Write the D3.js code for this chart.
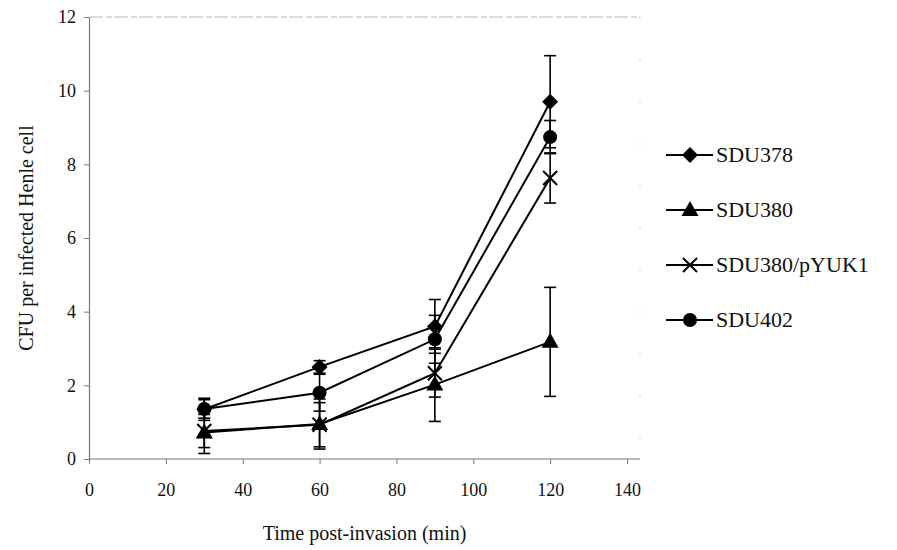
<!DOCTYPE html>
<html>
<head>
<meta charset="utf-8">
<script src="https://cdn.jsdelivr.net/npm/d3@7"></script>
<style>
html,body{margin:0;padding:0;background:#fff;}
svg{display:block;}
svg text{font-family:"Liberation Serif","Times New Roman",serif !important;}
</style>
</head>
<body>
<svg id="chart" width="897" height="550"></svg>
<script>
const times = [30, 60, 90, 120];
const seriesNames = ["SDU378", "SDU380", "SDU380/pYUK1", "SDU402"];
const markers = ["diamond", "triangle", "cross", "circle"];
const sdu378 = [1.35, 2.5, 3.6, 9.7];
const sdu378Err = [0.3, 0.17, 0.73, 1.25];
const sdu380 = [0.72, 0.95, 2.02, 3.18];
const sdu380Err = [0.57, 0.68, 1.0, 1.48];
const pyuk1 = [0.76, 0.93, 2.33, 7.63];
const pyuk1Err = [0.45, 0.6, 0.65, 0.68];
const sdu402 = [1.36, 1.8, 3.25, 8.74];
const sdu402Err = [0.25, 0.5, 0.65, 0.45];
const xTicks = [0, 20, 40, 60, 80, 100, 120, 140];
const yTicks = [0, 2, 4, 6, 8, 10, 12];

const series = [
  {name: seriesNames[0], marker: markers[0], v: sdu378, e: sdu378Err},
  {name: seriesNames[1], marker: markers[1], v: sdu380, e: sdu380Err},
  {name: seriesNames[2], marker: markers[2], v: pyuk1, e: pyuk1Err},
  {name: seriesNames[3], marker: markers[3], v: sdu402, e: sdu402Err}
];

const svg = d3.select("#chart");
const L = 89, R = 640, T = 17, B = 459;
const x = d3.scaleLinear().domain([0, 140]).range([L, L + (627 - 89)]);
const y = d3.scaleLinear().domain([0, 12]).range([B, T]);

// plot frame (light top/right)
svg.append("line").attr("x1", L).attr("x2", R).attr("y1", T).attr("y2", T)
  .attr("stroke", "#b8b8b8").attr("stroke-width", 1).attr("stroke-dasharray", "14,3,6,2");
svg.append("line").attr("x1", R).attr("x2", R).attr("y1", T).attr("y2", B)
  .attr("stroke", "#d0d0d0").attr("stroke-width", 1).attr("stroke-dasharray", "2,40");

// axes
const xAxis = d3.axisBottom(x).tickValues(xTicks).tickSize(5).tickSizeOuter(0);
const gx = svg.append("g").attr("transform", `translate(0,${B})`).call(xAxis);
gx.select(".domain").remove();
gx.append("line").attr("x1", L).attr("x2", R).attr("stroke", "#777").attr("stroke-width", 1.2);
gx.selectAll(".tick line").attr("stroke", "#777");
gx.selectAll(".tick text").attr("font-size", 18).attr("fill", "#111").attr("dy", "1.6em");

const yAxis = d3.axisLeft(y).tickValues(yTicks).tickSize(5).tickSizeOuter(0);
const gy = svg.append("g").attr("transform", `translate(${L},0)`).call(yAxis);
gy.select(".domain").attr("stroke", "#777").attr("stroke-width", 1.2);
gy.selectAll(".tick line").attr("stroke", "#777");
gy.selectAll(".tick text").attr("font-size", 18).attr("fill", "#111").attr("x", -13);

// titles
svg.append("text").attr("x", (L + R) / 2).attr("y", 540).attr("text-anchor", "middle")
  .attr("font-size", 20).attr("fill", "#111").text("Time post-invasion (min)");
svg.append("text").attr("transform", `translate(33,${(T + B) / 2}) rotate(-90)`)
  .attr("text-anchor", "middle").attr("font-size", 20).attr("fill", "#111")
  .text("CFU per infected Henle cell");

const line = d3.line().x((d, i) => x(times[i])).y(d => y(d));

// error bars
const eg = svg.append("g").attr("stroke", "#000").attr("stroke-width", 1.6);
series.forEach(s => {
  s.v.forEach((v, i) => {
    const cx = x(times[i]);
    const y1 = y(v + s.e[i]), y2 = y(v - s.e[i]);
    eg.append("line").attr("x1", cx).attr("x2", cx).attr("y1", y1).attr("y2", y2);
    eg.append("line").attr("x1", cx - 6).attr("x2", cx + 6).attr("y1", y1).attr("y2", y1);
    eg.append("line").attr("x1", cx - 6).attr("x2", cx + 6).attr("y1", y2).attr("y2", y2);
  });
});

// lines
series.forEach(s => {
  svg.append("path").datum(s.v).attr("d", line).attr("fill", "none")
    .attr("stroke", "#000").attr("stroke-width", 2);
});

function drawMarker(g, type, cx, cy) {
  if (type === "diamond") {
    g.append("path").attr("d", "M0,-8L8,0L0,8L-8,0Z")
      .attr("transform", `translate(${cx},${cy})`).attr("fill", "#000");
  } else if (type === "triangle") {
    g.append("path").attr("d", `M0,-9L8.5,6L-8.5,6Z`)
      .attr("transform", `translate(${cx},${cy})`).attr("fill", "#000");
  } else if (type === "cross") {
    g.append("path").attr("d", "M-7,-7L7,7M-7,7L7,-7")
      .attr("transform", `translate(${cx},${cy})`).attr("stroke", "#000").attr("stroke-width", 2).attr("fill", "none");
  } else {
    g.append("circle").attr("cx", cx).attr("cy", cy).attr("r", 7).attr("fill", "#000");
  }
}

const mg = svg.append("g");
series.forEach(s => {
  s.v.forEach((v, i) => drawMarker(mg, s.marker, x(times[i]), y(v)));
});

// legend
const lg = svg.append("g");
const legY = [155, 210, 265, 320];
series.forEach((s, i) => {
  const ly = legY[i];
  lg.append("line").attr("x1", 666).attr("x2", 713).attr("y1", ly).attr("y2", ly)
    .attr("stroke", "#000").attr("stroke-width", 2);
  drawMarker(lg, s.marker, 690, ly);
  lg.append("text").attr("x", 716).attr("y", ly + 7).attr("font-size", 22).attr("fill", "#111").text(s.name);
});
</script>
</body>
</html>
